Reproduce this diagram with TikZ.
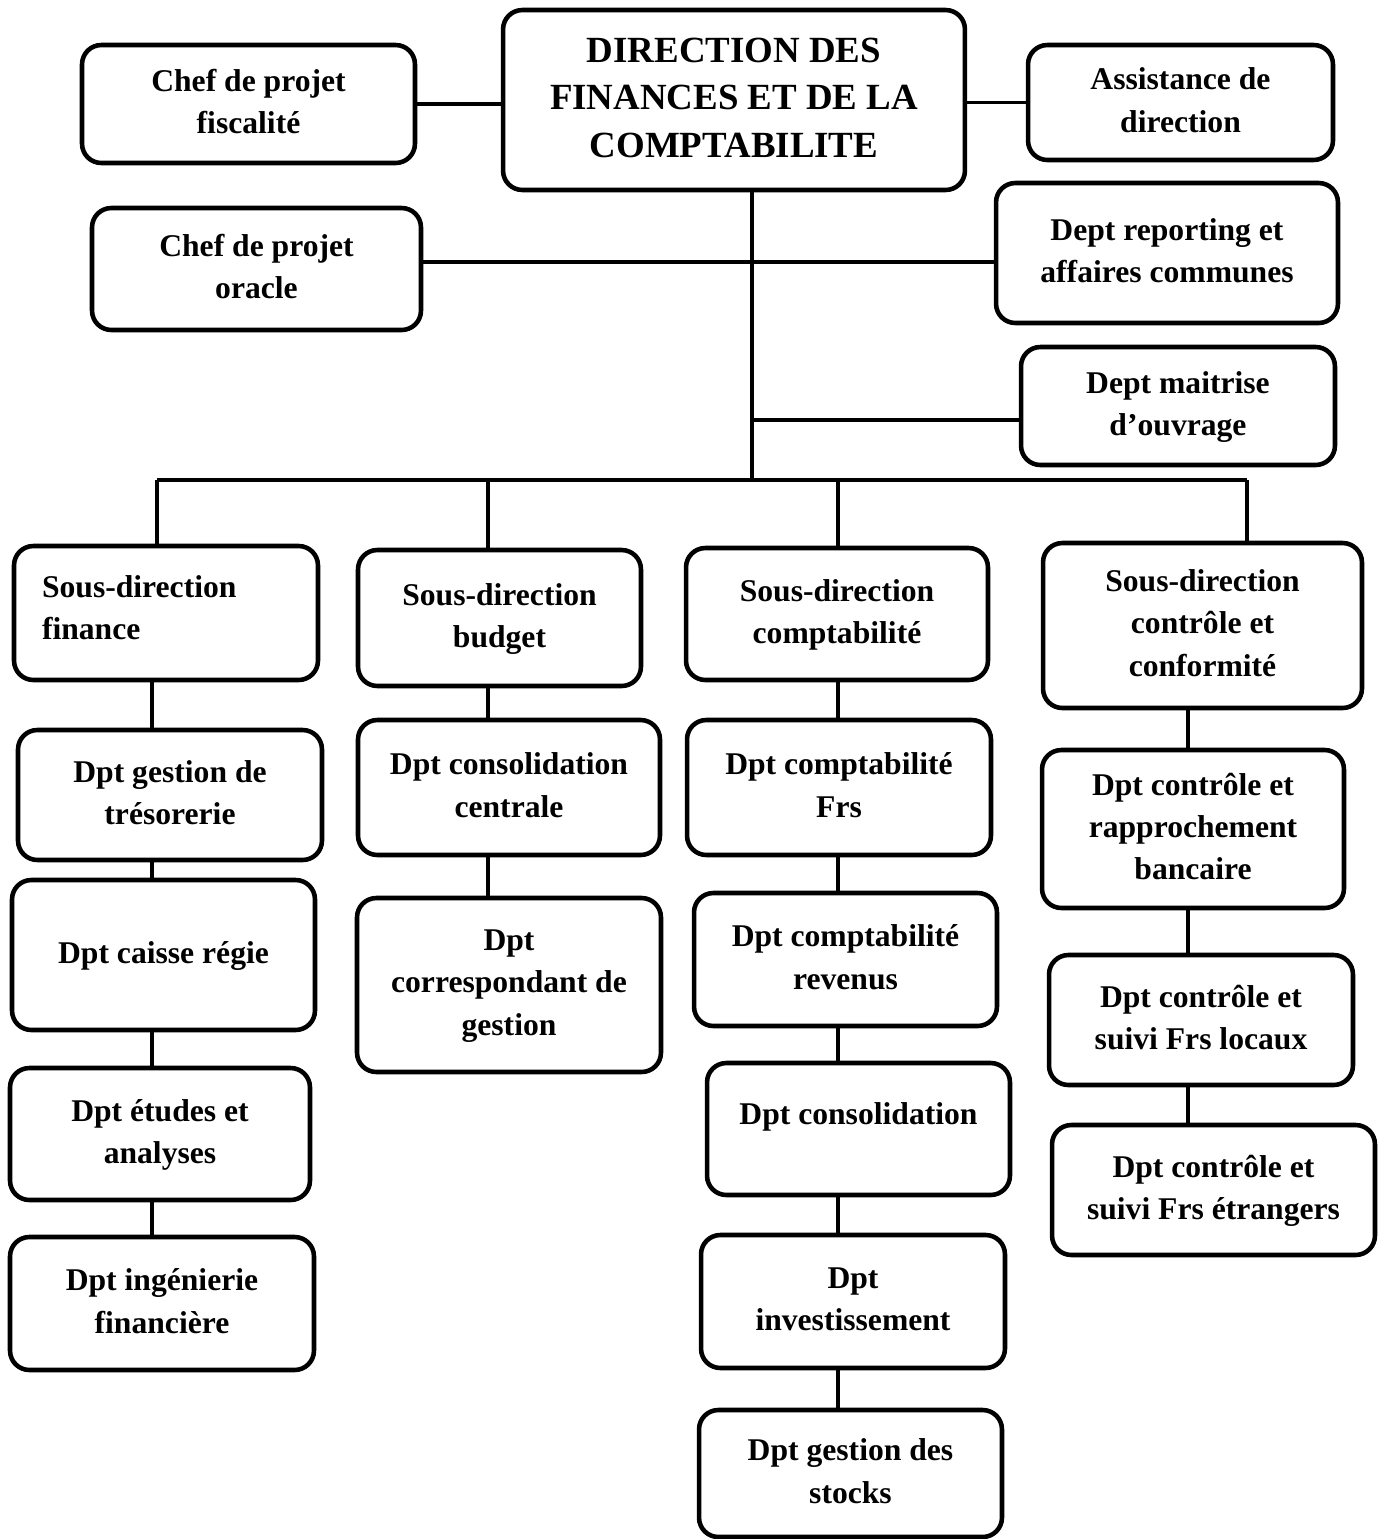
\documentclass[tikz,border=0pt]{standalone}
\usepackage{fontspec}
\setmainfont{Liberation Serif}
\usetikzlibrary{calc}

\begin{document}
\begin{tikzpicture}[
  x=0.02cm, y=-0.02cm,
  box/.style={rectangle, rounded corners=11pt, draw=black, line width=2.6pt, align=center, inner sep=2pt, text depth=0.1cm, font=\fontsize{18}{24}\selectfont\bfseries, minimum width=6.08cm, minimum height=2.64cm},
  headbox/.style={box, font=\fontsize{21}{27}\selectfont\bfseries},
  link/.style={line width=2.2pt, color=black}
]
  \useasboundingbox (0,0) rectangle (1384,1539);

  % Direction
  \node[headbox, minimum width=9.24cm, minimum height=3.6cm] (dir) at (734,100) {DIRECTION DES\\FINANCES ET DE LA\\COMPTABILITE};
  \node[box, minimum width=6.66cm, minimum height=2.36cm] (fisc) at (248.5,104) {Chef de projet\\fiscalité};
  \node[box, minimum width=6.1cm, minimum height=2.3cm] (assist) at (1180.5,102.5) {Assistance de\\direction};
  \node[box, minimum width=6.58cm, minimum height=2.44cm] (oracle) at (256.5,269) {Chef de projet\\oracle};
  \node[box, minimum width=6.84cm, minimum height=2.8cm] (report) at (1167,253) {Dept reporting et\\affaires communes};
  \node[box, minimum width=6.28cm, minimum height=2.36cm] (maitrise) at (1178,406) {Dept maitrise\\d’ouvrage};

  % Sous-direction finance
  \node[box, minimum height=2.68cm, align=left, text width=4.96cm, inner xsep=0.56cm, text depth=1.07cm] (sdfin) at (166,613) {Sous-direction\\finance};
  \node[box, minimum height=2.6cm] (tresor) at (170,795) {Dpt gestion de\\trésorerie};
  \node[box, minimum width=6.06cm, minimum height=3cm] (caisse) at (163.5,955) {Dpt caisse régie};
  \node[box, minimum width=6cm] (etudes) at (160,1134) {Dpt études et\\analyses};
  \node[box, minimum height=2.66cm] (ingen) at (162,1303.5) {Dpt ingénierie\\financière};

  % Sous-direction budget
  \node[box, minimum width=5.66cm, minimum height=2.72cm] (sdbud) at (499.5,618) {Sous-direction\\budget};
  \node[box, minimum width=6.04cm, minimum height=2.7cm] (consol) at (509,787.5) {Dpt consolidation\\centrale};
  \node[box, minimum height=3.48cm] (corresp) at (509,985) {Dpt\\correspondant de\\gestion};

  % Sous-direction comptabilite
  \node[box, minimum width=6.04cm] (sdcpt) at (837,614) {Sous-direction\\comptabilité};
  \node[box, minimum height=2.7cm] (frs) at (839,787.5) {Dpt comptabilité\\Frs};
  \node[box, minimum width=6.06cm, minimum height=2.66cm] (revenus) at (845.5,959.5) {Dpt comptabilité\\revenus};
  \node[box, minimum width=6.06cm, text depth=0.6cm] (consolid) at (858.5,1129) {Dpt consolidation};
  \node[box, minimum height=2.66cm] (invest) at (853,1301.5) {Dpt\\investissement};
  \node[box, minimum width=6.06cm, minimum height=2.54cm] (stocks) at (850.5,1473.5) {Dpt gestion des\\stocks};

  % Sous-direction controle
  \node[box, minimum width=6.38cm, minimum height=3.3cm] (sdctrl) at (1202.5,625.5) {Sous-direction\\contrôle et\\conformité};
  \node[box, minimum width=6.04cm, minimum height=3.16cm] (rappro) at (1193,829) {Dpt contrôle et\\rapprochement\\bancaire};
  \node[box, minimum height=2.6cm] (locaux) at (1201,1020) {Dpt contrôle et\\suivi Frs locaux};
  \node[box, minimum width=6.46cm, minimum height=2.6cm] (etrang) at (1213.5,1190) {Dpt contrôle et\\suivi Frs étrangers};

  % Trunk and bus
  \coordinate (trunk) at (752,480);
  \coordinate (b1) at (157,480);
  \coordinate (b2) at (488,480);
  \coordinate (b3) at (838,480);
  \coordinate (b4) at (1247,480);

  \draw[link] (fisc.east) -- (fisc.east -| dir.west);
  \draw[link] (dir.east |- assist.west) -- (assist.west);
  \draw[link] (dir.south -| trunk) -- (trunk);
  \draw[link] ([yshift=0.14cm]oracle.east) -- ([yshift=0.14cm]oracle.east -| report.west);
  \draw[link] ([yshift=-0.28cm]maitrise.west) -- ([yshift=-0.28cm]maitrise.west -| trunk);
  \draw[link] (b1) -- (b4);
  \draw[link] (b1) -- (b1 |- sdfin.north);
  \draw[link] (b2) -- (b2 |- sdbud.north);
  \draw[link] (b3) -- (b3 |- sdcpt.north);
  \draw[link] (b4) -- (b4 |- sdctrl.north);

  % Columns
  \foreach \a/\b in {sdfin/tresor, tresor/caisse, caisse/etudes, etudes/ingen}
    \draw[link] ([xshift=-0.1cm]\a.south -| b1) -- ([xshift=-0.1cm]\b.north -| b1);
  \foreach \a/\b in {sdbud/consol, consol/corresp}
    \draw[link] (\a.south -| b2) -- (\b.north -| b2);
  \foreach \a/\b in {sdcpt/frs, frs/revenus, revenus/consolid, consolid/invest, invest/stocks}
    \draw[link] (\a.south -| b3) -- (\b.north -| b3);
  \foreach \a/\b in {sdctrl/rappro, rappro/locaux, locaux/etrang}
    \draw[link] ([xshift=-1.18cm]\a.south -| b4) -- ([xshift=-1.18cm]\b.north -| b4);
\end{tikzpicture}
\end{document}
